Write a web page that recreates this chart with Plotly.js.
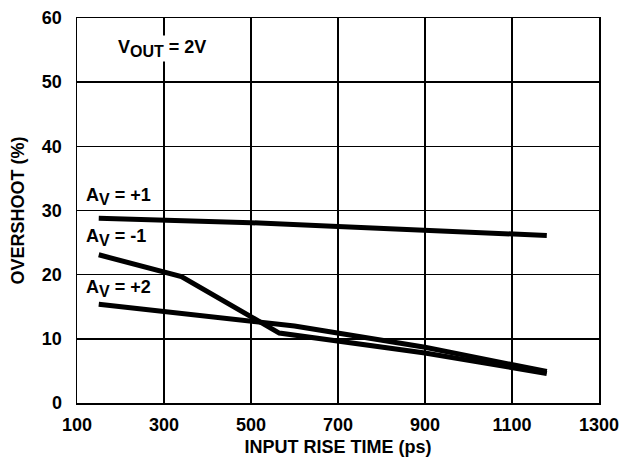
<!DOCTYPE html>
<html><head><meta charset="utf-8">
<script src="https://cdn.plot.ly/plotly-3.0.1.min.js"></script>
<style>body{margin:0;background:#fff}#c{width:635px;height:462px}</style>
</head><body><div id="c"></div>
<script>
const xAv1 = [150, 350, 500, 700, 900, 1180];
const yAv1 = [28.8, 28.5, 28.1, 27.5, 26.9, 26.1];
const xAvm1 = [150, 340, 565, 900, 1180];
const yAvm1 = [23.1, 19.7, 10.9, 7.8, 4.6];
const xAv2 = [150, 520, 600, 900, 1180];
const yAv2 = [15.4, 12.7, 12.0, 8.7, 4.9];
const xTicks = [100, 300, 500, 700, 900, 1100, 1300];
const yTicks = [0, 10, 20, 30, 40, 50, 60];

const line = {color: '#000', width: 5};
const traces = [
  {x: xAv1, y: yAv1, mode: 'lines', line: line, name: 'AV=+1'},
  {x: xAvm1, y: yAvm1, mode: 'lines', line: line, name: 'AV=-1'},
  {x: xAv2, y: yAv2, mode: 'lines', line: line, name: 'AV=+2'}
];
const fam = 'Liberation Sans, Arial, sans-serif';
const f18 = {family: fam, size: 18, color: '#000'};
const sub = s => '<sub><span style="font-size:16px">' + s + '</span></sub>';
const ann = (x, y, t, bg) => ({x: x, y: y, xref: 'x', yref: 'y', text: t, showarrow: false,
  xanchor: 'left', yanchor: 'middle', font: f18,
  bgcolor: bg || 'rgba(0,0,0,0)', borderpad: 1});
const layout = {
  width: 635, height: 462,
  margin: {l: 77, r: 36, t: 18, b: 59},
  paper_bgcolor: '#fff', plot_bgcolor: '#fff',
  showlegend: false,
  font: f18,
  xaxis: {range: [100, 1300], tickvals: xTicks, ticktext: xTicks.map(v => '<b>' + v + '</b>'),
    showgrid: true, gridcolor: '#000', gridwidth: 1.5, zeroline: false,
    showline: true, linecolor: '#000', linewidth: 1.5, mirror: true, ticks: '',
    ticklabelstandoff: 5, automargin: false,
    tickfont: f18,
    title: {text: '<b>INPUT RISE TIME (ps)</b>', font: f18, standoff: 6}},
  yaxis: {range: [0, 60], tickvals: yTicks, ticktext: yTicks.map(v => '<b>' + v + '</b>'),
    showgrid: true, gridcolor: '#000', gridwidth: 1.5, zeroline: false,
    showline: true, linecolor: '#000', linewidth: 1.5, mirror: true, ticks: '',
    ticklabelstandoff: 10, automargin: false,
    tickfont: f18,
    title: {text: '<b>OVERSHOOT (%)</b>', font: f18, standoff: 12}},
  annotations: [
    ann(190, 55.3, '<b>V' + sub('OUT') + ' = 2V</b>', '#fff'),
    ann(117, 32.2, '<b>A' + sub('V') + ' = +1</b>'),
    ann(117, 25.8, '<b>A' + sub('V') + ' = -1</b>'),
    ann(117, 17.8, '<b>A' + sub('V') + ' = +2</b>')
  ]
};
Plotly.newPlot('c', traces, layout, {staticPlot: true});
</script></body></html>
